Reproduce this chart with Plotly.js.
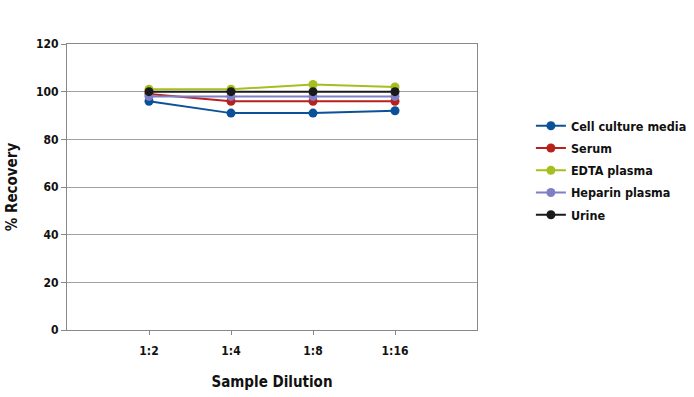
<!DOCTYPE html>
<html><head><meta charset="utf-8">
<script src="https://cdn.plot.ly/plotly-3.0.1.min.js"></script>
<style>body{margin:0;padding:0;background:#fff}#chart{width:694px;height:397px}</style>
</head><body><div id="chart"></div>
<script>
const categories = ["1:2", "1:4", "1:8", "1:16"];
const cellCulture = [96, 91, 91, 92];
const serum = [99, 96, 96, 96];
const edta = [101, 101, 103, 102];
const heparin = [98, 98, 98, 98];
const urine = [100, 100, 100, 100];
const seriesNames = ["Cell culture media", "Serum", "EDTA plasma", "Heparin plasma", "Urine"];
const seriesData = [cellCulture, serum, edta, heparin, urine];
const colors = ["#0B5199", "#B8221B", "#A6BF1E", "#7F7FC8", "#1a1a1a"];
const xPos = categories.map((c, i) => i + 1);
const traces = seriesData.map((d, i) => ({
  x: xPos, y: d, name: seriesNames[i], type: "scatter", mode: "lines+markers", legendgroup: "g" + i,
  line: {color: colors[i], width: 2}, marker: {color: colors[i], size: 9}
}));
const font = "DejaVu Sans Condensed, sans-serif";
Plotly.newPlot("chart", traces, {
  width: 694, height: 397,
  margin: {l: 67, r: 217, t: 44, b: 67, autoexpand: false},
  paper_bgcolor: "#fff", plot_bgcolor: "#fff",
  font: {family: font, color: "#111", size: 12},
  showlegend: true,
  legend: {xref: "container", yref: "container", x: 0.765, y: 0.72, xanchor: "left", yanchor: "top",
    font: {size: 12.5, family: font, weight: "bold"}, traceorder: "grouped", tracegroupgap: 3},
  xaxis: {range: [0, 5], tickvals: xPos, ticktext: categories, showgrid: false, zeroline: false,
    showline: true, linecolor: "#888", linewidth: 1, mirror: true, ticks: "outside", ticklen: 4, tickcolor: "#888",
    tickfont: {size: 12, weight: "bold"}, ticklabelstandoff: 6,
    title: {text: "Sample Dilution", font: {size: 15, weight: "bold"}, standoff: 19}},
  yaxis: {range: [0, 120], dtick: 20, showgrid: true, gridcolor: "#a0a0a0", gridwidth: 1, zeroline: false,
    showline: true, linecolor: "#888", linewidth: 1, mirror: true, ticks: "outside", ticklen: 5, tickcolor: "#888",
    tickfont: {size: 12, weight: "bold"},
    title: {text: "% Recovery", font: {size: 15, weight: "bold"}, standoff: 14}}
}, {displayModeBar: false, staticPlot: true});
</script></body></html>
